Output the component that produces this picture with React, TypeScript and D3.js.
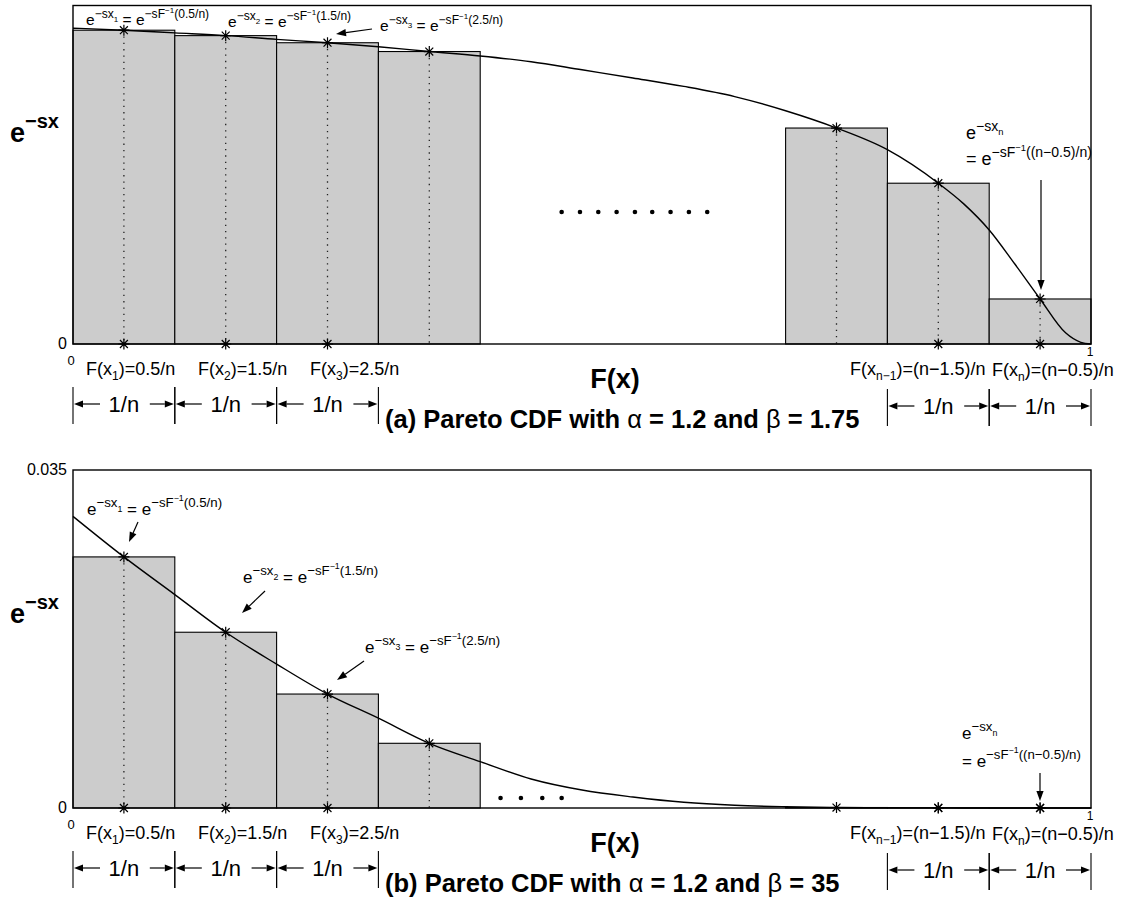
import React from "react";
import * as d3 from "d3";

// bins of width 1/n, n = 10 on the F(x) axis
const N_BINS = 10;
const shownBins = [1, 2, 3, 4, 8, 9, 10];
const bottomStarBins = [1, 2, 3, 9, 10];

// bar heights (panel a normalised to the box height)
const barsA = [0.927, 0.911, 0.89, 0.864, 0.638, 0.475, 0.133];
const barsB = [0.026, 0.0182, 0.0118, 0.0067, 0.00005, 0.00002, 0.000003];

// the e^{-sx} curve
const curveF = [0, 0.05, 0.1, 0.15, 0.2, 0.25, 0.3, 0.35, 0.4, 0.45, 0.5, 0.55, 0.6, 0.65, 0.7, 0.75, 0.8, 0.85, 0.875, 0.9, 0.925, 0.95, 0.975, 0.99, 1];
const curveA = [0.933, 0.927, 0.919, 0.911, 0.9, 0.89, 0.878, 0.864, 0.851, 0.834, 0.81, 0.786, 0.761, 0.731, 0.689, 0.638, 0.574, 0.475, 0.414, 0.337, 0.237, 0.133, 0.033, 0.005, 0];
const curveB = [0.0302, 0.026, 0.0221, 0.0182, 0.0149, 0.0118, 0.0093, 0.0067, 0.0048, 0.003, 0.00186, 0.00114, 0.00059, 0.00028, 0.00013, 0.00005, 0.00002, 0.00001, 0.000006, 0.000004, 0.000003, 0.000003, 0.000001, 0, 0];

// "......" filler marks
const dotsFA = [0.48, 0.498, 0.516, 0.534, 0.552, 0.569, 0.587, 0.605, 0.623];
const dotsFB = [0.42, 0.44, 0.461, 0.48];
const dotsYA = 0.39;
const dotsYB = 0.00104;

const yMaxA = 1;
const yMaxB = 0.035;
const yTicksA = [0];
const yTicksB = [0, 0.035];

const binArgs = ["(0.5/n)", "(1.5/n)", "(2.5/n)"];
const binNames = ["1", "2", "3"];
const fLabels = ["0.5/n", "1.5/n", "2.5/n"];

const FONT = "Liberation Sans, Arial, Helvetica, sans-serif";
const X0 = 73;
const X1 = 1091;

const x = d3.scaleLinear().domain([0, 1]).range([X0, X1]);

const starPath = (r: number) => {
  const p = d3.path();
  const d = r * 0.72;
  p.moveTo(0, -r); p.lineTo(0, r);
  p.moveTo(-r, 0); p.lineTo(r, 0);
  p.moveTo(-d, -d); p.lineTo(d, d);
  p.moveTo(-d, d); p.lineTo(d, -d);
  return p.toString();
};

type Piece = [string, number, number]; // text, size factor, raise in em

const MathText = ({ x, y, size, pieces }: { x: number; y: number; size: number; pieces: Piece[] }) => {
  let prev = 0;
  return (
    <text x={x} y={y} fontSize={size} fontFamily={FONT} style={{ whiteSpace: "pre" }}>
      {pieces.map(([t, f, r], i) => {
        const off = -r * size;
        const dy = off - prev;
        prev = off;
        return (
          <tspan key={i} fontSize={size * f} dy={dy}>
            {t}
          </tspan>
        );
      })}
    </text>
  );
};

const labelPieces = (k: string, arg: string): Piece[] => [
  ["e", 1, 0],
  ["\u2212sx", 0.78, 0.45],
  [k, 0.52, 0.2],
  [" = e", 1, 0],
  ["\u2212sF", 0.78, 0.45],
  ["\u22121", 0.52, 0.8],
  [arg, 0.78, 0.45],
];

const Arrow = ({ from, to, len = 10, half = 3.6 }: { from: number[]; to: number[]; len?: number; half?: number }) => {
  const [x1, y1] = from;
  const [x2, y2] = to;
  const a = Math.atan2(y2 - y1, x2 - x1);
  const bx = x2 - len * Math.cos(a);
  const by = y2 - len * Math.sin(a);
  const px = -Math.sin(a) * half;
  const py = Math.cos(a) * half;
  return (
    <g>
      <line x1={x1} y1={y1} x2={bx} y2={by} stroke="#000" strokeWidth={1.2} />
      <polygon points={`${x2},${y2} ${bx + px},${by + py} ${bx - px},${by - py}`} fill="#000" />
    </g>
  );
};

const DimRow = ({ a, b, y }: { a: number; b: number; y: number }) => {
  const xa = x(a);
  const xb = x(b);
  const mid = (xa + xb) / 2;
  return (
    <g>
      <line x1={xa} x2={xa} y1={y - 17} y2={y + 20} stroke="#000" strokeWidth={1.1} />
      <line x1={xb} x2={xb} y1={y - 17} y2={y + 20} stroke="#000" strokeWidth={1.1} />
      <Arrow from={[xa + 27, y]} to={[xa + 1, y]} len={9} half={3.4} />
      <Arrow from={[xb - 25, y]} to={[xb - 1, y]} len={9} half={3.4} />
      <text x={mid} y={y + 8} fontSize={22} fontFamily={FONT} textAnchor="middle">
        1/n
      </text>
    </g>
  );
};

type PanelProps = {
  top: number;
  bottom: number;
  yMax: number;
  yTicks: number[];
  bars: number[];
  curve: number[];
  dotsF: number[];
  dotsY: number;
  tag: string;
  beta: string;
  yLabelY: number;
  labelSize: number;
  labelPos: number[][];
  labelArrows: (number[][] | null)[];
  nLabel: number[];
  nSize: number;
  nArrow: number[][];
};

const Panel = (p: PanelProps) => {
  const y = d3.scaleLinear().domain([0, p.yMax]).range([p.bottom, p.top]);
  const line = d3
    .line<number>()
    .x((_, i) => x(curveF[i]))
    .y((d) => y(d))
    .curve(d3.curveMonotoneX);
  const star = starPath(5.5);
  const fmt = (v: number) => (v === 0 ? "0" : String(v));
  return (
    <g fontFamily={FONT}>
      {shownBins.map((k, i) => (
        <rect
          key={k}
          x={x((k - 1) / N_BINS)}
          width={x(k / N_BINS) - x((k - 1) / N_BINS)}
          y={y(p.bars[i])}
          height={p.bottom - y(p.bars[i])}
          fill="#cccccc"
          stroke="#000"
          strokeWidth={1.1}
        />
      ))}
      {shownBins.map((k, i) => (
        <line
          key={k}
          x1={x((k - 0.5) / N_BINS)}
          x2={x((k - 0.5) / N_BINS)}
          y1={y(p.bars[i])}
          y2={p.bottom}
          stroke="#222"
          strokeWidth={1.3}
          strokeDasharray="1.3 5"
        />
      ))}
      <path d={line(p.curve) || ""} fill="none" stroke="#000" strokeWidth={1.4} />
      <rect x={X0} y={p.top} width={X1 - X0} height={p.bottom - p.top} fill="none" stroke="#000" strokeWidth={1.4} />
      {shownBins.map((k, i) => (
        <path key={k} d={star} transform={`translate(${x((k - 0.5) / N_BINS)},${y(p.bars[i])})`} stroke="#000" strokeWidth={1.2} fill="none" />
      ))}
      {bottomStarBins.map((k) => (
        <path key={k} d={star} transform={`translate(${x((k - 0.5) / N_BINS)},${p.bottom})`} stroke="#000" strokeWidth={1.2} fill="none" />
      ))}
      {p.dotsF.map((f, i) => (
        <circle key={i} cx={x(f)} cy={y(p.dotsY)} r={2.3} fill="#000" />
      ))}
      {p.yTicks.map((t) => (
        <text key={t} x={X0 - 6} y={y(t) + 5} fontSize={16} textAnchor="end">
          {fmt(t)}
        </text>
      ))}
      <text x={X0 - 2} y={p.bottom + 21} fontSize={13} textAnchor="middle">0</text>
      <text x={X1 - 1} y={p.bottom + 12} fontSize={12} textAnchor="middle">1</text>
      {/* y axis label */}
      <text x={10} y={p.yLabelY} fontSize={27} fontWeight="bold">
        e
        <tspan fontSize={20} dy={-14}>{"\u2212sx"}</tspan>
      </text>
      {/* F(x) labels under the bins */}
      {fLabels.map((l, i) => (
        <MathText key={i} x={[86, 198, 310][i]} y={p.bottom + 31} size={18} pieces={[["F(x", 1, 0], [binNames[i], 0.67, -0.3], [")=" + l, 1, 0]]} />
      ))}
      <MathText x={850} y={p.bottom + 31} size={18} pieces={[["F(x", 1, 0], ["n\u22121", 0.67, -0.3], [")=(n\u22121.5)/n", 1, 0]]} />
      <MathText x={992} y={p.bottom + 32} size={18} pieces={[["F(x", 1, 0], ["n", 0.67, -0.3], [")=(n\u22120.5)/n", 1, 0]]} />
      <text x={615} y={p.bottom + 44} fontSize={27} fontWeight="bold" textAnchor="middle">F(x)</text>
      {/* 1/n spans */}
      {[0, 1, 2].map((i) => (
        <DimRow key={i} a={i / N_BINS} b={(i + 1) / N_BINS} y={p.bottom + 60} />
      ))}
      {[8, 9].map((i) => (
        <DimRow key={i} a={i / N_BINS} b={(i + 1) / N_BINS} y={p.bottom + 62} />
      ))}
      <text x={385} y={p.bottom + 84} fontSize={25.5} fontWeight="bold" style={{ whiteSpace: "pre" }}>
        {`(${p.tag}) Pareto CDF with `}
        <tspan fontWeight="normal">{"\u03b1"}</tspan>
        {" = 1.2 and "}
        <tspan fontWeight="normal">{"\u03b2"}</tspan>
        {` = ${p.beta}`}
      </text>
      {/* annotations */}
      {p.labelPos.map((pos, i) => (
        <MathText key={i} x={pos[0]} y={pos[1]} size={p.labelSize} pieces={labelPieces(binNames[i], binArgs[i])} />
      ))}
      {p.labelArrows.map((a, i) => (a ? <Arrow key={i} from={a[0]} to={a[1]} /> : null))}
      <MathText x={p.nLabel[0]} y={p.nLabel[1]} size={p.nSize} pieces={[["e", 1, 0], ["\u2212sx", 0.78, 0.45], ["n", 0.52, 0.2]]} />
      <MathText
        x={p.nLabel[0]}
        y={p.nLabel[2]}
        size={p.nSize}
        pieces={[["= e", 1, 0], ["\u2212sF", 0.78, 0.45], ["\u22121", 0.52, 0.8], ["((n\u22120.5)/n)", 0.78, 0.45]]}
      />
      <Arrow from={p.nArrow[0]} to={p.nArrow[1]} />
    </g>
  );
};

export default function App() {
  return (
    <svg width={1133} height={911} style={{ position: "absolute", left: 0, top: 0, background: "#fff" }}>
      <rect width={1133} height={911} fill="#fff" />
      <Panel
        top={5.5}
        bottom={344}
        yMax={yMaxA}
        yTicks={yTicksA}
        bars={barsA}
        curve={curveA}
        dotsF={dotsFA}
        dotsY={dotsYA}
        tag="a"
        beta="1.75"
        yLabelY={142}
        labelSize={15.5}
        labelPos={[[86, 25], [228, 27], [380, 31]]}
        labelArrows={[null, null, [[372, 29], [336, 34]]]}
        nLabel={[966, 139, 165]}
        nSize={18}
        nArrow={[[1041, 180], [1041, 290]]}
      />
      <Panel
        top={470}
        bottom={808}
        yMax={yMaxB}
        yTicks={yTicksB}
        bars={barsB}
        curve={curveB}
        dotsF={dotsFB}
        dotsY={dotsYB}
        tag="b"
        beta="35"
        yLabelY={623}
        labelSize={17}
        labelPos={[[87, 515], [243, 583], [365, 653]]}
        labelArrows={[[[138, 522], [129, 542]], [[265, 591], [242, 613]], [[364, 661], [337, 680]]]}
        nLabel={[962, 739, 767]}
        nSize={17}
        nArrow={[[1040, 773], [1040, 801]]}
      />
    </svg>
  );
}
